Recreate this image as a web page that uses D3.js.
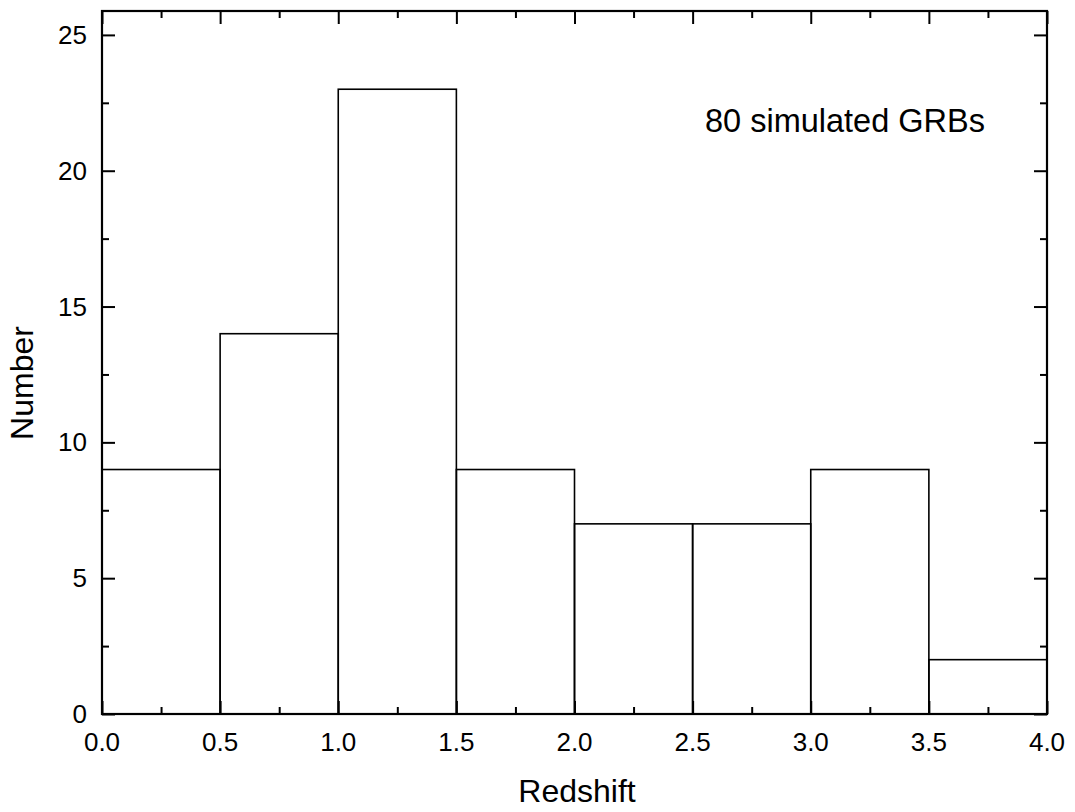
<!DOCTYPE html>
<html>
<head>
<meta charset="utf-8">
<script src="https://cdn.jsdelivr.net/npm/d3@7"></script>
<style>
  html, body { margin: 0; padding: 0; background: #fff; }
  svg { display: block; }
  text { font-family: "Liberation Sans", Arial, Helvetica, sans-serif; fill: #000; }
</style>
</head>
<body>
<svg id="chart" width="1075" height="812"></svg>
<script>
// Redshift histogram: bin edges and counts per bin
const binEdges = [0.0, 0.5, 1.0, 1.5, 2.0, 2.5, 3.0, 3.5, 4.0];
const counts = [9, 14, 23, 9, 7, 7, 9, 2];
const xMajorTicks = [0.0, 0.5, 1.0, 1.5, 2.0, 2.5, 3.0, 3.5, 4.0];
const xMinorTicks = [0.25, 0.75, 1.25, 1.75, 2.25, 2.75, 3.25, 3.75];
const yMajorTicks = [0, 5, 10, 15, 20, 25];
const yMinorTicks = [2.5, 7.5, 12.5, 17.5, 22.5];
const annotation = "80 simulated GRBs";

const svg = d3.select("#chart");
const margin = { left: 102, right: 28, top: 11, bottom: 98 };
const W = 1075, H = 812;
const x0 = margin.left, x1 = W - margin.right;
const y0 = H - margin.bottom, y1 = margin.top;

const x = d3.scaleLinear().domain([0, 4]).range([x0, x1]);
const y = d3.scaleLinear().domain([0, 25.88]).range([y0, y1]);

// histogram bars
const bins = counts.map((c, i) => ({ lo: binEdges[i], hi: binEdges[i + 1], n: c }));
svg.append("g")
  .selectAll("rect")
  .data(bins)
  .join("rect")
  .attr("x", d => x(d.lo))
  .attr("y", d => y(d.n))
  .attr("width", d => x(d.hi) - x(d.lo))
  .attr("height", d => y(0) - y(d.n))
  .attr("fill", "none")
  .attr("stroke", "#000")
  .attr("stroke-width", 1.6);

// axes with inward ticks on all four sides
const major = 13, minor = 7;
function addAxis(axisFn, scale, transform, ticks, size) {
  const ax = axisFn(scale)
    .tickValues(ticks)
    .tickSizeInner(size)
    .tickSizeOuter(0)
    .tickFormat("");
  const g = svg.append("g").attr("transform", transform).call(ax);
  g.select(".domain").remove();
  g.selectAll(".tick line").attr("stroke", "#000").attr("stroke-width", 2);
  return g;
}
// bottom: ticks point up (inward)
addAxis(d3.axisTop, x, `translate(0,${y0})`, xMajorTicks, major);
addAxis(d3.axisTop, x, `translate(0,${y0})`, xMinorTicks, minor);
// top
addAxis(d3.axisBottom, x, `translate(0,${y1})`, xMajorTicks, major);
addAxis(d3.axisBottom, x, `translate(0,${y1})`, xMinorTicks, minor);
// left: ticks point right (inward)
addAxis(d3.axisRight, y, `translate(${x0},0)`, yMajorTicks, major);
addAxis(d3.axisRight, y, `translate(${x0},0)`, yMinorTicks, minor);
// right
addAxis(d3.axisLeft, y, `translate(${x1},0)`, yMajorTicks, major);
addAxis(d3.axisLeft, y, `translate(${x1},0)`, yMinorTicks, minor);

// tick labels outside the frame
svg.append("g")
  .selectAll("text")
  .data(xMajorTicks)
  .join("text")
  .attr("x", d => x(d))
  .attr("y", y0 + 37)
  .attr("text-anchor", "middle")
  .style("font-size", "26px")
  .text(d => d3.format(".1f")(d));

svg.append("g")
  .selectAll("text")
  .data(yMajorTicks)
  .join("text")
  .attr("x", x0 - 15)
  .attr("y", d => y(d))
  .attr("dy", "0.35em")
  .attr("text-anchor", "end")
  .style("font-size", "26px")
  .text(d => d);

// frame
svg.append("rect")
  .attr("x", x0).attr("y", y1)
  .attr("width", x1 - x0).attr("height", y0 - y1)
  .attr("fill", "none")
  .attr("stroke", "#000")
  .attr("stroke-width", 2.2);

// axis titles
svg.append("text")
  .attr("x", 577)
  .attr("y", 802)
  .attr("text-anchor", "middle")
  .style("font-size", "32px")
  .text("Redshift");

svg.append("text")
  .attr("transform", `translate(33,383) rotate(-90)`)
  .attr("text-anchor", "middle")
  .style("font-size", "32px")
  .text("Number");

// annotation
svg.append("text")
  .attr("x", 705)
  .attr("y", 132)
  .style("font-size", "32.5px")
  .text(annotation);
</script>
</body>
</html>
